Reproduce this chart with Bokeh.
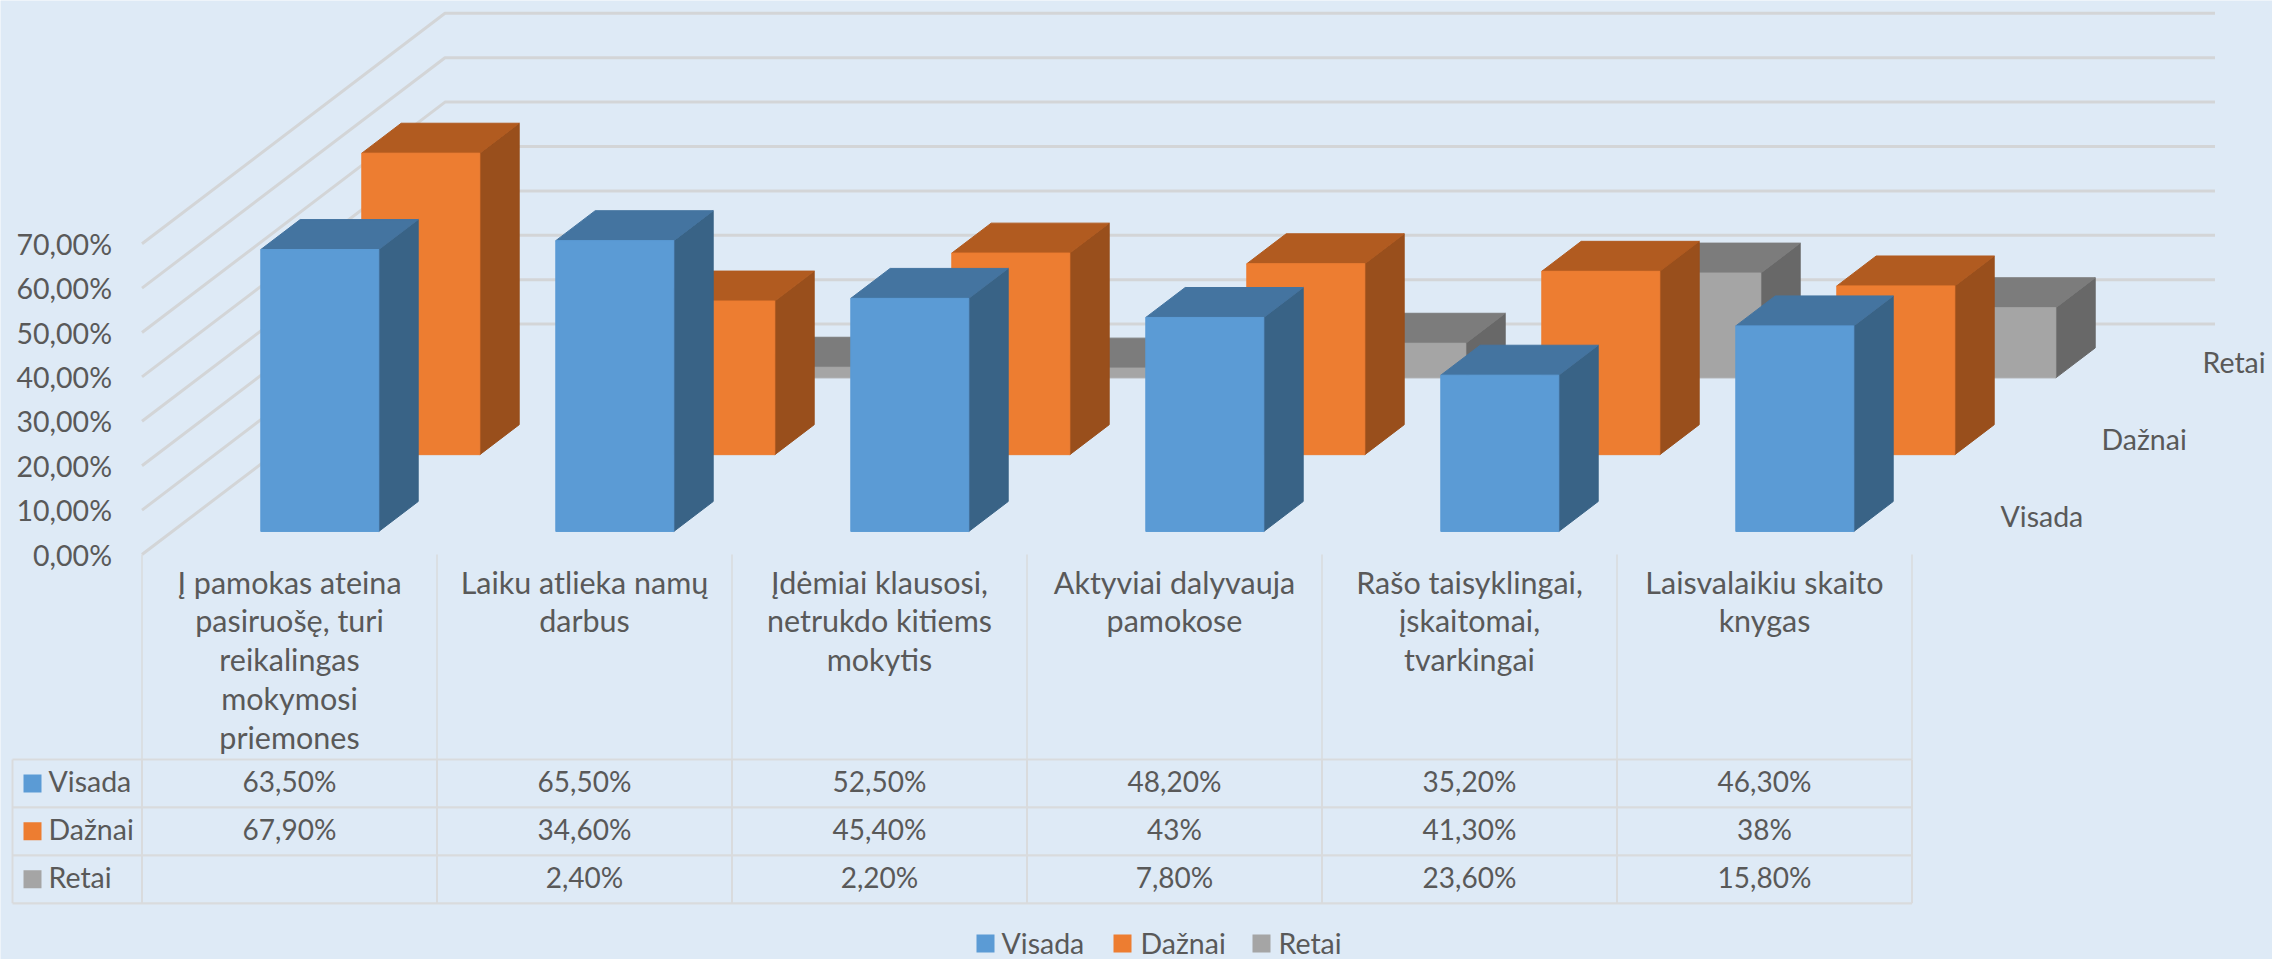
from bokeh.plotting import figure
from bokeh.models import Range1d, LinearAxis, FixedTicker, ColumnDataSource
from bokeh.core.properties import value
from bokeh.embed import file_html
from bokeh.resources import INLINE

categories = [
    "Į pamokas ateina\npasiruošę, turi\nreikalingas\nmokymosi\npriemones",
    "Laiku atlieka namų\ndarbus",
    "Įdėmiai klausosi,\nnetrukdo kitiems\nmokytis",
    "Aktyviai dalyvauja\npamokose",
    "Rašo taisyklingai,\nįskaitomai,\ntvarkingai",
    "Laisvalaikiu skaito\nknygas",
]
series_names = ["Visada", "Dažnai", "Retai"]
visada = [63.5, 65.5, 52.5, 48.2, 35.2, 46.3]
daznai = [67.9, 34.6, 45.4, 43.0, 41.3, 38.0]
retai = [None, 2.4, 2.2, 7.8, 23.6, 15.8]
visada_text = ["63,50%", "65,50%", "52,50%", "48,20%", "35,20%", "46,30%"]
daznai_text = ["67,90%", "34,60%", "45,40%", "43%", "41,30%", "38%"]
retai_text = ["", "2,40%", "2,20%", "7,80%", "23,60%", "15,80%"]
y_ticks = [0, 10, 20, 30, 40, 50, 60, 70]
y_tick_labels = ["0,00%", "10,00%", "20,00%", "30,00%", "40,00%", "50,00%", "60,00%", "70,00%"]

FRONT = ["#5B9BD5", "#ED7D31", "#A5A5A5"]
TOP = ["#4474A0", "#B15B20", "#7C7C7C"]
SIDE = ["#396386", "#994F1C", "#686868"]
BG = "#DEEAF6"
TXT = "#595959"
GRID = "#D3D5D7"
RULE = "#D9DBDD"
FONT = "Lato"

W, H = 2272, 959
CAT_PX, PCT_PX = 295.0, 4.44        # pixels per category, per percent
X0, Y0 = 141.5, 554.0               # page position of the chart's front floor corner
DZX, DZY = 101.0, 76.8              # pixels per series slot along depth


def dx(px):
    return (px - X0) / CAT_PX


def dy(py):
    return (Y0 - py) / PCT_PX


def proj(cat, pct, z):
    """Project (category position, percent, depth slot) into data coordinates."""
    return cat + z * DZX / CAT_PX, pct + z * DZY / PCT_PX


p = figure(width=W, height=H, output_backend="svg", toolbar_location=None,
           x_range=Range1d(dx(0), dx(W)), y_range=Range1d(dy(H), dy(0)),
           x_axis_location=None, y_axis_location=None, min_border=0,
           background_fill_color=BG, border_fill_color=BG, outline_line_color=None)
p.grid.visible = False

# walls' gridlines
for v in y_ticks:
    x1, y1 = proj(0, v, 0)
    x2, y2 = proj(0, v, 3)
    x3, y3 = proj(6, v, 3)
    p.line([x1, x2, x3], [y1, y2, y3], line_color=GRID, line_width=3)

# bars, back to front
for s in (2, 1, 0):
    vals = [visada, daznai, retai][s]
    for i, v in enumerate(vals):
        if v is None:
            continue
        a, b = i + 0.3, i + 0.7
        z1, z2 = s + 0.3, s + 0.69
        faces = [
            (SIDE[s], [proj(b, 0, z1), proj(b, 0, z2), proj(b, v, z2), proj(b, v, z1)]),
            (TOP[s], [proj(a, v, z1), proj(b, v, z1), proj(b, v, z2), proj(a, v, z2)]),
            (FRONT[s], [proj(a, 0, z1), proj(b, 0, z1), proj(b, v, z1), proj(a, v, z1)]),
        ]
        for col, pts in faces:
            p.patch([q[0] for q in pts], [q[1] for q in pts], fill_color=col,
                    line_color=col, line_width=1)

# value axis
ax = LinearAxis(fixed_location=0, ticker=FixedTicker(ticks=y_ticks),
                major_label_overrides=dict(zip(y_ticks, y_tick_labels)),
                axis_line_color=None, major_tick_line_color=None, minor_tick_line_color=None,
                major_tick_in=0, major_tick_out=0, major_label_standoff=30,
                major_label_text_color=TXT, major_label_text_font=FONT,
                major_label_text_font_size="28.5px")
p.add_layout(ax, "left")

# depth axis labels
for s, name in enumerate(series_names):
    x, y = proj(6 + 38 / CAT_PX, 0.5 / PCT_PX, s + 0.5)
    p.text([x], [y], text=[name], text_color=TXT, text_font=value(FONT),
           text_font_size="28.5px", text_align="left", text_baseline="middle")

# data table rules
row_py = [759, 806.8, 854.8, 902.8]
for i in range(7):
    p.line([i, i], [dy(554), dy(759)], line_color=RULE, line_width=1.5)
    p.line([i, i], [dy(759), dy(902.8)], line_color=RULE, line_width=2)
p.line([dx(12), dx(12)], [dy(759), dy(902.8)], line_color=RULE, line_width=2)
for py in row_py:
    p.line([dx(12), 6], [dy(py), dy(py)], line_color=RULE, line_width=2.2)

# category labels
src = ColumnDataSource(dict(x=[i + 0.5 for i in range(6)],
                            y=[dy(563)] * 6, t=categories))
p.text("x", "y", text="t", source=src, text_color=TXT, text_font=value(FONT),
       text_font_size="30.5px", text_align="center", text_baseline="top", text_line_height=1.08)

# table values and keys
rows = [visada_text, daznai_text, retai_text]
for r, texts in enumerate(rows):
    yc = (row_py[r] + row_py[r + 1]) / 2
    p.text([i + 0.5 for i in range(6)], [dy(yc - 2)] * 6, text=texts, text_color=TXT,
           text_font=value(FONT), text_font_size="28px", text_align="center", text_baseline="middle")
    p.quad(left=[dx(23)], right=[dx(41)], top=[dy(yc - 9)], bottom=[dy(yc + 9)],
           fill_color=FRONT[r], line_color=None)
    p.text([dx(48)], [dy(yc - 2)], text=[series_names[r]], text_color=TXT, text_font=value(FONT),
           text_font_size="28.5px", text_align="left", text_baseline="middle")

# legend
leg_swatch = [976, 1113, 1252]
leg_text = [1001, 1140, 1278]
leg_mid = 942
for r, name in enumerate(series_names):
    p.quad(left=[dx(leg_swatch[r])], right=[dx(leg_swatch[r] + 18)], top=[dy(leg_mid - 8)],
           bottom=[dy(leg_mid + 10)], fill_color=FRONT[r], line_color=None)
    p.text([dx(leg_text[r])], [dy(leg_mid)], text=[name], text_color=TXT, text_font=value(FONT),
           text_font_size="28.5px", text_align="left", text_baseline="middle")

open("out.html", "w").write(file_html(p, INLINE))
